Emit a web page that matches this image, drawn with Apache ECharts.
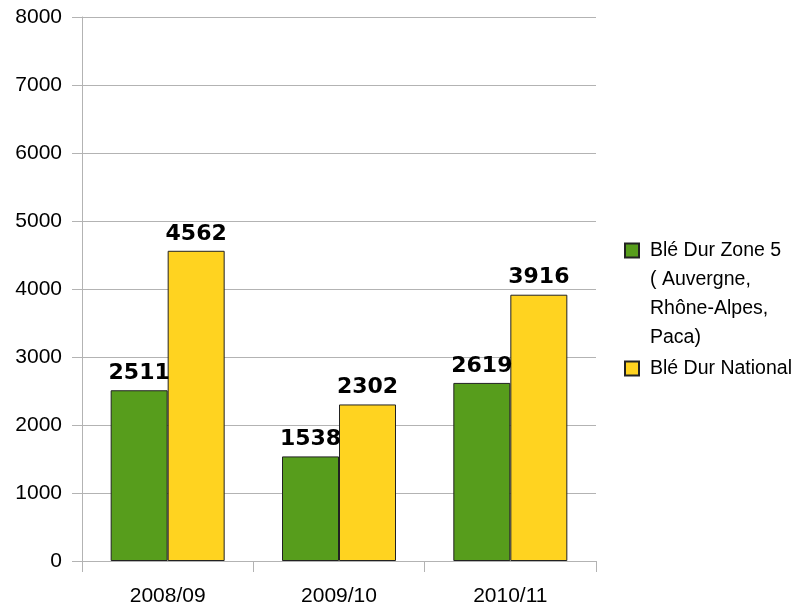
<!DOCTYPE html>
<html>
<head>
<meta charset="utf-8">
<script src="https://cdn.jsdelivr.net/npm/echarts@6/dist/echarts.min.js"></script>
<style>
    html, body { margin: 0; padding: 0; background: #fff; }
    #chart { width: 805px; height: 603px; }
</style>
</head>
<body>
<div id="chart"></div>
<script>
    // données
    var campagnes = ['2008/09', '2009/10', '2010/11'];
    var zone5 = [2511, 1538, 2619];
    var national = [4562, 2302, 3916];
    var nomZone5 = 'Blé Dur Zone 5\n( Auvergne,\nRhône-Alpes,\nPaca)';
    var nomNational = 'Blé Dur National';

    var gris = '#b3b3b3';
    var police = '"Liberation Sans", Arial, sans-serif';

    var labelBarre = {
        show: true,
        position: 'top',
        distance: 6,
        fontFamily: '"DejaVu Sans", Verdana, sans-serif',
        fontWeight: 'bold',
        fontSize: 22,
        color: '#000'
    };

    var myChart = echarts.init(document.getElementById('chart'));
    var option = {
        animation: false,
        backgroundColor: '#fff',
        grid: {
            left: 82,
            right: 209,
            top: 17,
            bottom: 42,
            containLabel: false,
            outerBoundsMode: 'none'
        },
        legend: {
            orient: 'vertical',
            left: 624,
            top: 149,
            padding: 0,
            itemGap: 2,
            itemWidth: 14,
            itemHeight: 14,
            icon: 'rect',
            textStyle: {
                fontFamily: police,
                fontSize: 19.5,
                color: '#000',
                lineHeight: 29,
                padding: [0, 0, 0, 6]
            },
            // lignes vides au-dessus pour garder le carré en face de la 1re ligne
            formatter: function (name) {
                return name === nomZone5 ? '\n\n\n' + name : name;
            },
            data: [nomZone5, nomNational]
        },
        xAxis: {
            type: 'category',
            data: campagnes,
            axisLine: {lineStyle: {color: gris}},
            axisTick: {show: true, length: 11, lineStyle: {color: gris}},
            axisLabel: {
                margin: 25,
                fontFamily: police,
                fontSize: 21,
                color: '#000'
            },
            splitLine: {show: false}
        },
        yAxis: {
            type: 'value',
            min: 0,
            max: 8000,
            interval: 1000,
            axisLine: {show: true, lineStyle: {color: gris}},
            axisTick: {show: true, length: 10, lineStyle: {color: gris}},
            axisLabel: {
                margin: 20,
                fontFamily: police,
                fontSize: 21,
                color: '#000',
                formatter: function (v) { return String(v); }
            },
            splitLine: {lineStyle: {color: gris}}
        },
        series: [
            {
                name: nomZone5,
                type: 'bar',
                data: zone5,
                barWidth: 57,
                barGap: 0,
                itemStyle: {color: '#579d1c', borderColor: '#222', borderWidth: 1},
                label: labelBarre
            },
            {
                name: nomNational,
                type: 'bar',
                data: national,
                barWidth: 57,
                barGap: 0,
                itemStyle: {color: '#ffd320', borderColor: '#222', borderWidth: 1},
                label: labelBarre
            }
        ]
    };
    myChart.setOption(option);
</script>
</body>
</html>
